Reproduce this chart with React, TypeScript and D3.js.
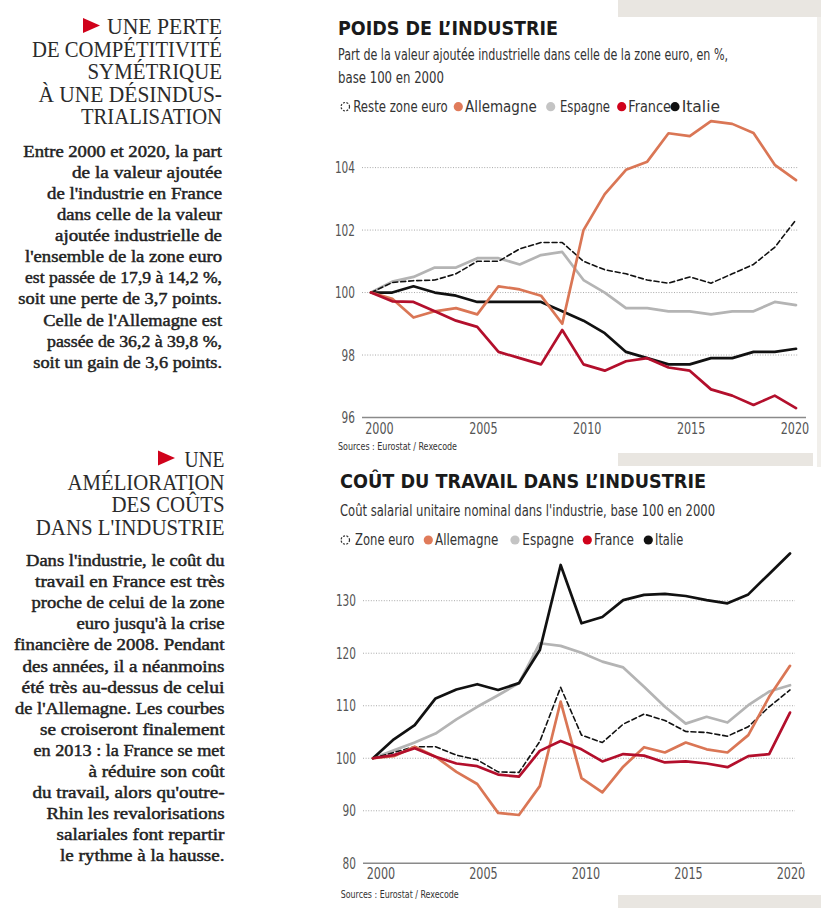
import React from 'react';
import * as d3 from 'd3';

// ---------- DATA ----------
const years = [2000, 2001, 2002, 2003, 2004, 2005, 2006, 2007, 2008, 2009, 2010, 2011, 2012, 2013, 2014, 2015, 2016, 2017, 2018, 2019, 2020];

// Poids de l'industrie (base 100 en 2000)
const poidsReste = [100, 100.32, 100.38, 100.4, 100.6, 101.0, 101.0, 101.4, 101.6, 101.6, 101.0, 100.73, 100.6, 100.4, 100.3, 100.5, 100.3, 100.6, 100.9, 101.45, 102.33];
const poidsAllemagne = [100, 99.8, 99.2, 99.4, 99.5, 99.3, 100.2, 100.1, 99.9, 99.0, 102.0, 103.15, 103.93, 104.19, 105.1, 105.01, 105.49, 105.4, 105.11, 104.09, 103.6];
const poidsEspagne = [100, 100.35, 100.5, 100.8, 100.8, 101.1, 101.1, 100.9, 101.2, 101.3, 100.4, 100.0, 99.5, 99.5, 99.4, 99.4, 99.3, 99.4, 99.4, 99.7, 99.6];
const poidsFrance = [100, 99.72, 99.7, 99.4, 99.1, 98.9, 98.1, 97.9, 97.7, 98.8, 97.7, 97.5, 97.8, 97.9, 97.6, 97.5, 96.9, 96.7, 96.4, 96.7, 96.3];
const poidsItalie = [100, 100, 100.2, 100.0, 99.9, 99.7, 99.7, 99.7, 99.7, 99.4, 99.1, 98.7, 98.1, 97.9, 97.7, 97.7, 97.9, 97.9, 98.1, 98.1, 98.2];
const poidsTicks = [96, 98, 100, 102, 104];

// Coût du travail (base 100 en 2000)
const coutZone = [100, 101.1, 102.2, 102.2, 100.6, 99.7, 97.4, 97.3, 103.2, 113.5, 104.4, 103.0, 106.5, 108.4, 107.2, 105.1, 104.9, 104.2, 106.0, 109.8, 113.0];
const coutAllemagne = [100, 100.4, 102.2, 100.3, 97.4, 95.1, 89.6, 89.2, 94.7, 110.8, 96.2, 93.5, 98.4, 102.1, 101.1, 103.0, 101.7, 101.1, 104.4, 111.7, 117.6];
const coutEspagne = [100, 101.5, 103.0, 104.7, 107.4, 109.8, 112.0, 114.3, 121.9, 121.4, 120.1, 118.4, 117.3, 113.6, 109.8, 106.6, 107.9, 106.8, 110.1, 112.7, 113.9];
const coutFrance = [100, 100.6, 101.9, 100.3, 99.0, 98.5, 96.9, 96.5, 101.4, 103.3, 101.7, 99.4, 100.8, 100.5, 99.2, 99.4, 99.0, 98.3, 100.4, 100.8, 108.7];
const coutItalie = [100, 103.6, 106.3, 111.4, 113.1, 114.1, 113.0, 114.3, 120.6, 136.8, 125.7, 126.9, 130.1, 131.1, 131.3, 130.9, 130.1, 129.5, 131.2, 135.1, 139.0];
const coutTicks = [80, 90, 100, 110, 120, 130];

const xTickYears = [2000, 2005, 2010, 2015, 2020];

// ---------- TEXT ----------
const heading1 = ['UNE PERTE', 'DE COMPÉTITIVITÉ', 'SYMÉTRIQUE', 'À UNE DÉSINDUS-', 'TRIALISATION'];
const heading1W = [115, 190, 134.5, 183.5, 141];
const body1 = [
  'Entre 2000 et 2020, la part',
  'de la valeur ajoutée',
  "de l'industrie en France",
  'dans celle de la valeur',
  'ajoutée industrielle de',
  "l'ensemble de la zone euro",
  'est passée de 17,9 à 14,2 %,',
  'soit une perte de 3,7 points.',
  "Celle de l'Allemagne est",
  'passée de 36,2 à 39,8 %,',
  'soit un gain de 3,6 points.',
];
const body1W = [198.7, 150, 175, 165, 167, 197, 197, 203.7, 178.7, 175, 188.7];

const heading2 = ['UNE', 'AMÉLIORATION', 'DES COÛTS', "DANS L'INDUSTRIE"];
const heading2W = [40, 157, 113, 188.7];
const body2 = [
  "Dans l'industrie, le coût du",
  'travail en France est très',
  'proche de celui de la zone',
  "euro jusqu'à la crise",
  'financière de 2008. Pendant',
  'des années, il a néanmoins',
  'été très au-dessus de celui',
  "de l'Allemagne. Les courbes",
  'se croiseront finalement',
  'en 2013 : la France se met',
  'à réduire son coût',
  "du travail, alors qu'outre-",
  'Rhin les revalorisations',
  'salariales font repartir',
  'le rythme à la hausse.',
];
const body2W = [198.5, 189.5, 193, 148, 210.5, 202, 203, 209.5, 184.5, 191, 136, 192, 178, 168, 164.5];

const legend1 = ['Reste zone euro', 'Allemagne', 'Espagne', 'France', 'Italie'];
const legend2 = ['Zone euro', 'Allemagne', 'Espagne', 'France', 'Italie'];

// ---------- STYLE ----------
const C_DE = '#da7655';
const C_ES = '#b4b4b4';
const C_FR = '#b30f2c';
const C_IT = '#111111';
const DOT_DE = '#e07b5a';
const DOT_ES = '#c4c4c4';
const DOT_FR = '#d0021b';
const DOT_IT = '#111111';
const SANS = "'Liberation Sans Narrow', 'DejaVu Sans Condensed', Roboto, 'Liberation Sans', sans-serif";
const SERIF = "'Liberation Serif', 'DejaVu Serif', serif";

type ChartProps = {
  series: { values: number[]; color: string; dashed?: boolean; width?: number }[];
  yDomain: [number, number];
  yRange: [number, number];
  xRange: [number, number];
  labelRange: [number, number];
  ticks: number[];
  gridX: [number, number];
  axisX: [number, number];
  yLabelX: number;
  xLabelY: number;
};

function Chart(p: ChartProps) {
  const x = d3.scaleLinear().domain([2000, 2020]).range(p.xRange);
  const y = d3.scaleLinear().domain(p.yDomain).range(p.yRange);
  const xl = d3.scaleLinear().domain([2000, 2020]).range(p.labelRange);
  const line = d3
    .line<number>()
    .x((_, i) => x(years[i]))
    .y((d) => y(d));
  const base = p.ticks[0];
  return (
    <g>
      {p.ticks
        .filter((t) => t !== base)
        .map((t) => (
          <line key={'g' + t} x1={p.gridX[0]} x2={p.gridX[1]} y1={y(t)} y2={y(t)} stroke="#a9a9a9" strokeWidth={1} strokeDasharray="1,1.6" />
        ))}
      <line x1={p.axisX[0]} x2={p.axisX[1]} y1={y(base)} y2={y(base)} stroke="#8a8a8a" strokeWidth={1.6} />
      {p.ticks.map((t) => (
        <text key={'yl' + t} x={p.yLabelX} y={y(t) + 5.5} textAnchor="end" fontFamily={SANS} fontSize={15.5} fill="#555" textLength={String(t).length * 6.7} lengthAdjust="spacingAndGlyphs">
          {t}
        </text>
      ))}
      {xTickYears.map((yr) => (
        <text key={'xl' + yr} x={xl(yr)} y={p.xLabelY} textAnchor="middle" fontFamily={SANS} fontSize={15.5} fill="#555" textLength={28.5} lengthAdjust="spacingAndGlyphs">
          {yr}
        </text>
      ))}
      {p.series.map((s, i) => (
        <path
          key={'s' + i}
          d={line(s.values) || ''}
          fill="none"
          stroke={s.color}
          strokeWidth={s.width ?? 2.7}
          strokeDasharray={s.dashed ? '5,3' : undefined}
          strokeLinejoin="round"
          strokeLinecap="round"
        />
      ))}
    </g>
  );
}

function Legend({ labels, baseline, items }: { labels: string[]; baseline: number; items: [number, number, number][] }) {
  const dots = [null, DOT_DE, DOT_ES, DOT_FR, DOT_IT];
  return (
    <g>
      {labels.map((lab, i) => {
        const [cx, tx, tw] = items[i];
        return (
          <g key={lab}>
            {dots[i] ? (
              <circle cx={cx} cy={baseline - 5} r={4.6} fill={dots[i] as string} />
            ) : (
              <circle cx={cx} cy={baseline - 5} r={4.2} fill="none" stroke="#333" strokeWidth={1.2} strokeDasharray="2,1.4" />
            )}
            <text x={tx} y={baseline} fontFamily={SANS} fontSize={15.5} fill="#333" textLength={tw} lengthAdjust="spacingAndGlyphs">
              {lab}
            </text>
          </g>
        );
      })}
    </g>
  );
}

function TextBlock({ heading, headingW, hBase, hStep, body, bodyW, bBase, bStep, right, tri }: any) {
  return (
    <g>
      <polygon points={`${tri[0]},${tri[1]} ${tri[0] + 17},${tri[1] + 7.5} ${tri[0]},${tri[1] + 15}`} fill="#d0021b" />
      {heading.map((t: string, i: number) => (
        <text key={'h' + i} x={right} y={hBase + i * hStep} textAnchor="end" fontFamily={SERIF} fontSize={22.5} fill="#2b2b2b" textLength={headingW[i]} lengthAdjust="spacingAndGlyphs">
          {t}
        </text>
      ))}
      {body.map((t: string, i: number) => (
        <text
          key={'b' + i}
          x={right}
          y={bBase + i * bStep}
          textAnchor="end"
          fontFamily={SERIF}
          fontSize={16}
          fill="#222"
          stroke="#222"
          strokeWidth={0.45}
          textLength={bodyW[i]}
          lengthAdjust="spacingAndGlyphs"
        >
          {t}
        </text>
      ))}
    </g>
  );
}

export default function App() {
  return (
    <svg width={821} height={908} viewBox="0 0 821 908" style={{ position: 'absolute', left: 0, top: 0, background: '#fff' }}>
      <rect x={0} y={0} width={821} height={908} fill="#fff" />
      {/* grey paper edges */}
      <rect x={618} y={0} width={203} height={17} fill="#e9e6e1" />
      <rect x={817} y={17} width={4} height={450} fill="#f1efeb" />
      <rect x={618} y={453} width={195} height={13} fill="#e9e6e1" />
      <rect x={618} y={895} width={203} height={13} fill="#e9e6e1" />

      {/* left column */}
      <TextBlock
        heading={heading1}
        headingW={heading1W}
        hBase={34}
        hStep={22.5}
        body={body1}
        bodyW={body1W}
        bBase={156.7}
        bStep={21.1}
        right={222}
        tri={[83, 18]}
      />
      <TextBlock
        heading={heading2}
        headingW={heading2W}
        hBase={467}
        hStep={22.7}
        body={body2}
        bodyW={body2W}
        bBase={566}
        bStep={21.1}
        right={224.5}
        tri={[158, 450.5]}
      />

      {/* chart 1 */}
      <text x={338} y={35} fontFamily={SANS} fontWeight={700} fontSize={20} fill="#1a1a1a" textLength={220} lengthAdjust="spacingAndGlyphs">
        POIDS DE L’INDUSTRIE
      </text>
      <text x={338} y={60} fontFamily={SANS} fontSize={15.5} fill="#333" textLength={390} lengthAdjust="spacingAndGlyphs">
        Part de la valeur ajoutée industrielle dans celle de la zone euro, en %,
      </text>
      <text x={338} y={83.3} fontFamily={SANS} fontSize={15.5} fill="#333" textLength={106} lengthAdjust="spacingAndGlyphs">
        base 100 en 2000
      </text>
      <Legend
        labels={legend1}
        baseline={111.7}
        items={[
          [345.3, 353.3, 94.4],
          [458.3, 465, 71.7],
          [550.7, 560, 50],
          [621.7, 628.3, 42.7],
          [675, 681.7, 38.3],
        ]}
      />
      <Chart
        series={[
          { values: poidsEspagne, color: C_ES },
          { values: poidsReste, color: '#111', dashed: true, width: 1.6 },
          { values: poidsItalie, color: C_IT },
          { values: poidsAllemagne, color: C_DE },
          { values: poidsFrance, color: C_FR },
        ]}
        yDomain={[96, 104]}
        yRange={[417.5, 167.6]}
        xRange={[371, 796]}
        labelRange={[379.5, 795]}
        ticks={poidsTicks}
        gridX={[362, 798]}
        axisX={[362, 806]}
        yLabelX={355}
        xLabelY={433.5}
      />
      <text x={338} y={450} fontFamily={SANS} fontSize={11} fill="#333" textLength={119} lengthAdjust="spacingAndGlyphs">
        Sources : Eurostat / Rexecode
      </text>

      {/* chart 2 */}
      <text x={340} y={488.3} fontFamily={SANS} fontWeight={700} fontSize={20} fill="#1a1a1a" textLength={366} lengthAdjust="spacingAndGlyphs">
        COÛT DU TRAVAIL DANS L’INDUSTRIE
      </text>
      <text x={340} y={516} fontFamily={SANS} fontSize={15.5} fill="#333" textLength={375} lengthAdjust="spacingAndGlyphs">
        Coût salarial unitaire nominal dans l'industrie, base 100 en 2000
      </text>
      <Legend
        labels={legend2}
        baseline={545}
        items={[
          [345.3, 355, 59.3],
          [428.3, 435, 63.3],
          [515, 522.3, 51.7],
          [587.3, 594, 40],
          [648.3, 655, 28.3],
        ]}
      />
      <Chart
        series={[
          { values: coutEspagne, color: C_ES },
          { values: coutItalie, color: C_IT },
          { values: coutZone, color: '#111', dashed: true, width: 1.6 },
          { values: coutAllemagne, color: C_DE },
          { values: coutFrance, color: C_FR },
        ]}
        yDomain={[80, 130]}
        yRange={[863.3, 600.7]}
        xRange={[373, 790]}
        labelRange={[381, 791]}
        ticks={coutTicks}
        gridX={[363, 795]}
        axisX={[363, 802]}
        yLabelX={356}
        xLabelY={878.5}
      />
      <text x={340.7} y={898.3} fontFamily={SANS} fontSize={11} fill="#333" textLength={118} lengthAdjust="spacingAndGlyphs">
        Sources : Eurostat / Rexecode
      </text>
    </svg>
  );
}
